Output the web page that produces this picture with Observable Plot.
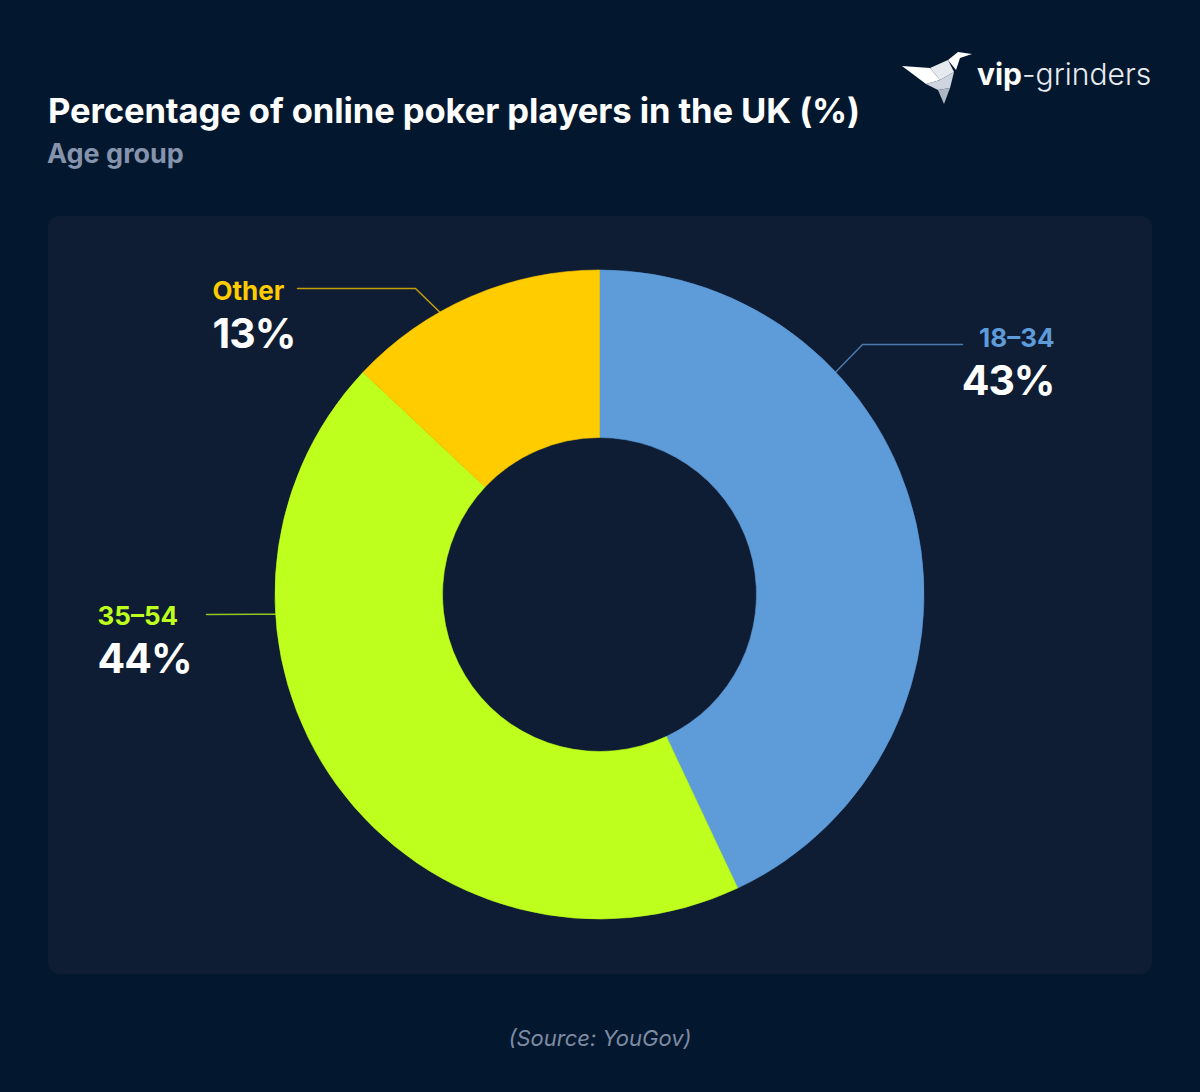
<!DOCTYPE html>
<html>
<head>
<meta charset="utf-8">
<script src="https://cdn.jsdelivr.net/npm/d3@7"></script>
<script src="https://cdn.jsdelivr.net/npm/@observablehq/plot@0.6"></script>
<style>
  html, body { margin: 0; padding: 0; }
  body { width: 1200px; height: 1092px; background: #03182e; position: relative; overflow: hidden; font-family: Inter, "Noto Sans", sans-serif; }
  .abs { position: absolute; line-height: 1; white-space: nowrap; }
  #title { left: 48px; top: 93px; font-size: 34.6px; font-weight: 700; color: #ffffff; letter-spacing: -0.1px; }
  #subtitle { left: 47px; top: 140px; font-size: 27px; font-weight: 700; color: #8593ad; }
  #caption { left: 0; width: 1200px; text-align: center; top: 1027px; font-size: 22px; font-style: italic; color: #7f8ba3; }
  #chart { position: absolute; left: 48px; top: 216px; width: 1104px; height: 758px; background: #0e1d33; border-radius: 12px; overflow: hidden; }
  #logo { left: 900px; top: 50px; }
  #logotext { left: 977px; top: 59px; font-size: 30px; color: #e8ebf0; }
  #logotext b { font-weight: 700; color: #ffffff; }
  #logotext span { font-weight: 300; }
</style>
</head>
<body>
<div id="title" class="abs">Percentage of online poker players in the UK (%)</div>
<div id="subtitle" class="abs">Age group</div>
<svg id="logo" class="abs" width="76" height="56" viewBox="0 0 76 56">
  <polygon points="2,16 30,18 40,30 26,34" fill="#ffffff"/>
  <polygon points="30,18 48,10 54,22 40,30" fill="#e6e9ee"/>
  <polygon points="48,10 58,2 72,4 60,8 56,20" fill="#ffffff"/>
  <polygon points="26,34 40,30 54,22 50,38 38,40" fill="#cfd5de"/>
  <polygon points="38,40 50,38 44,54" fill="#aeb7c4"/>
</svg>
<div id="logotext" class="abs"><b>vip</b><span>-grinders</span></div>
<div id="chart"></div>
<div id="caption" class="abs">(Source: YouGov)</div>
<script>
// ---- data ----
const categories = ["18–34", "35–54", "Other"];
const shares = [43, 44, 13];
const sliceColors = ["#5e9bd9", "#bfff1e", "#ffcc00"];
const shareLabels = ["43%", "44%", "13%"];

// ---- layout (pixels relative to donut centre) ----
const W = 1104, H = 758, CX = 551.5, CY = 378.5;
const outerR = 324.5, innerR = 157;
const labelLayout = {
  "18–34": {angle: 46.6, elbow: [262.5, -250.5], end: [362.5, -250.5], tx: 454.5, ty: -248.5, anchor: "end"},
  "35–54": {angle: 266.6, elbow: null, end: [-393.5, 19.5], tx: -502.5, ty: 29.5, anchor: "start"},
  "Other": {angle: 330.5, elbow: [-184.5, -306.5], end: [-302.5, -306.5], tx: -387.5, ty: -295.5, anchor: "start"}
};

const rows = categories.map((c, i) => ({cat: c, share: shares[i], label: shareLabels[i]}));
const pie = d3.pie().value(d => d.share).sort(null)(rows);

// leader line points
const leaders = [];
rows.forEach(r => {
  const L = labelLayout[r.cat];
  const a = L.angle * Math.PI / 180;
  leaders.push({cat: r.cat, x: outerR * Math.sin(a), y: -outerR * Math.cos(a)});
  if (L.elbow) leaders.push({cat: r.cat, x: L.elbow[0], y: L.elbow[1]});
  leaders.push({cat: r.cat, x: L.end[0], y: L.end[1]});
});

const catFont = 26, pctFont = 41;
const catText = rows.map(r => ({cat: r.cat, x: labelLayout[r.cat].tx, y: labelLayout[r.cat].ty - 0.32 * catFont, anchor: labelLayout[r.cat].anchor}));
const pctText = rows.map(r => ({cat: r.cat, label: r.label, x: labelLayout[r.cat].tx, y: labelLayout[r.cat].ty + 48 - 0.32 * pctFont, anchor: labelLayout[r.cat].anchor}));

const arcGen = d3.arc().innerRadius(innerR).outerRadius(outerR);

const donutMark = (index, scales, values, dims) => {
  const sx = typeof scales.x === "function" ? scales.x : (v => v + CX);
  const sy = typeof scales.y === "function" ? scales.y : (v => v + CY);
  const col = typeof scales.color === "function" ? scales.color : (c => sliceColors[categories.indexOf(c)]);
  const g = d3.create("svg:g").attr("transform", `translate(${sx(0)},${sy(0)})`);
  g.selectAll("path").data(pie).join("path")
    .attr("d", arcGen)
    .attr("fill", d => col(d.data.cat))
    .attr("stroke", d => col(d.data.cat))
    .attr("stroke-width", 0.6);
  return g.node();
};

const textMarks = ["start", "end"].flatMap(anchor => [
  Plot.text(catText.filter(d => d.anchor === anchor), {x: "x", y: "y", text: "cat", fill: "cat", textAnchor: anchor, fontSize: catFont, fontWeight: 700, fontFamily: "Inter"}),
  Plot.text(pctText.filter(d => d.anchor === anchor), {x: "x", y: "y", text: "label", fill: "#ffffff", textAnchor: anchor, fontSize: pctFont, fontWeight: 700, fontFamily: "Inter", style: "letter-spacing:-1px"})
]);

const chart = Plot.plot({
  width: W,
  height: H,
  margin: 0,
  style: {background: "transparent", overflow: "visible"},
  x: {type: "linear", domain: [-CX, W - CX], range: [0, W], axis: null},
  y: {type: "linear", domain: [-CY, H - CY], range: [0, H], axis: null},
  color: {domain: categories, range: sliceColors},
  marks: [
    donutMark,
    Plot.line(leaders, {x: "x", y: "y", z: "cat", stroke: "cat", strokeWidth: 1.5, strokeOpacity: 0.75}),
    ...textMarks
  ]
});
chart.querySelectorAll("text").forEach(t => { if (+t.getAttribute("font-size") === pctFont || t.closest("g")?.getAttribute("font-size") == pctFont) t.style.letterSpacing = "-1px"; });
document.getElementById("chart").appendChild(chart);
</script>
</body>
</html>
